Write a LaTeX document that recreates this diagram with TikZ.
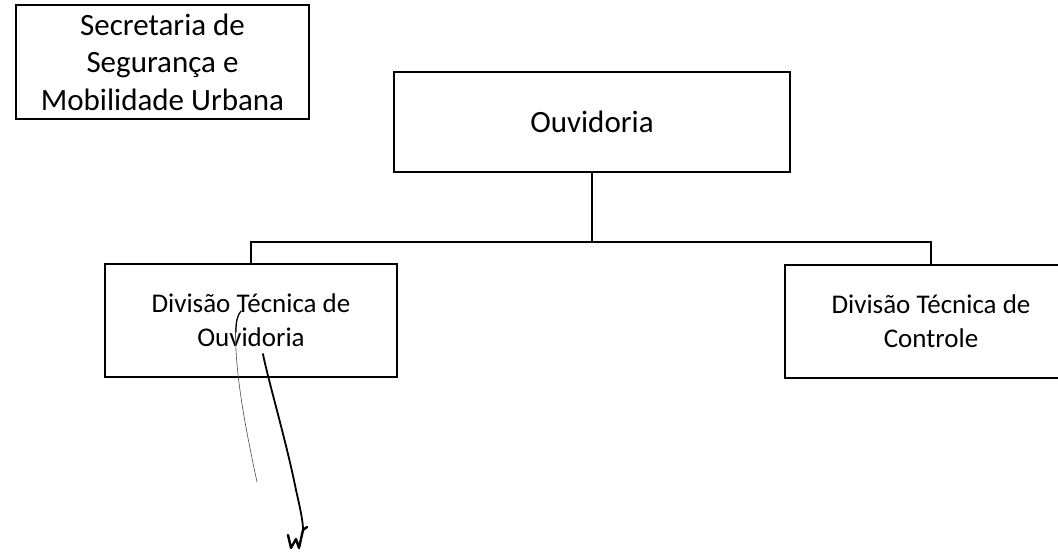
\documentclass[tikz,border=0pt]{standalone}
\usepackage{fontspec}
\setmainfont{Carlito}
\begin{document}
\begin{tikzpicture}[x=1pt,y=-1pt,
  box/.style={draw=black, line width=1.1pt, rectangle, inner sep=0pt, align=center},
  bigtext/.style={font=\fontsize{31}{37.5}\selectfont},
  divtext/.style={font=\fontsize{27}{34}\selectfont},
  conn/.style={draw=black, line width=1.4pt},
  sig/.style={line width=1.8pt, line cap=round, line join=round},
  sigthin/.style={line width=0.6pt, line cap=round, black!70}]
\clip (0,0) rectangle (1058,554);
\fill[white] (0,0) rectangle (1058,554);

\node[box, bigtext, minimum width=293pt, minimum height=114pt] (sec) at (162.5,62)
  {Secretaria de\\Segurança e\\Mobilidade Urbana};
\node[box, bigtext, minimum width=396pt, minimum height=100pt] (ouv) at (592,122) {Ouvidoria};
\node[box, divtext, minimum width=292pt, minimum height=113pt] (dto) at (251,320.5)
  {Divisão Técnica de\\Ouvidoria};
\node[box, divtext, minimum width=292pt, minimum height=113pt] (dtc) at (931,321.5)
  {Divisão Técnica de\\Controle};

\coordinate (bus) at (592,242);
\draw[conn] (ouv.south) -- (bus);
\draw[conn] (dto.north) |- (bus) -| (dtc.north);

% handwritten signature
\draw[sigthin] (241,311) .. controls (235,318) and (235,330) .. (236,350)
  .. controls (238,390) and (248,440) .. (257,482);
\draw[sig, line width=1.2pt] (241,311) .. controls (237,316) and (236,322) .. (236,332);
\draw[sig] (263,354) .. controls (268,380) and (286,440) .. (296,490)
  .. controls (301,512) and (303,522) .. (303,530);
\draw[sig, line width=2.4pt] (288,535) -- (291,548) -- (296,539) -- (299,548) -- (303,530) -- (307,527);
\end{tikzpicture}
\end{document}
